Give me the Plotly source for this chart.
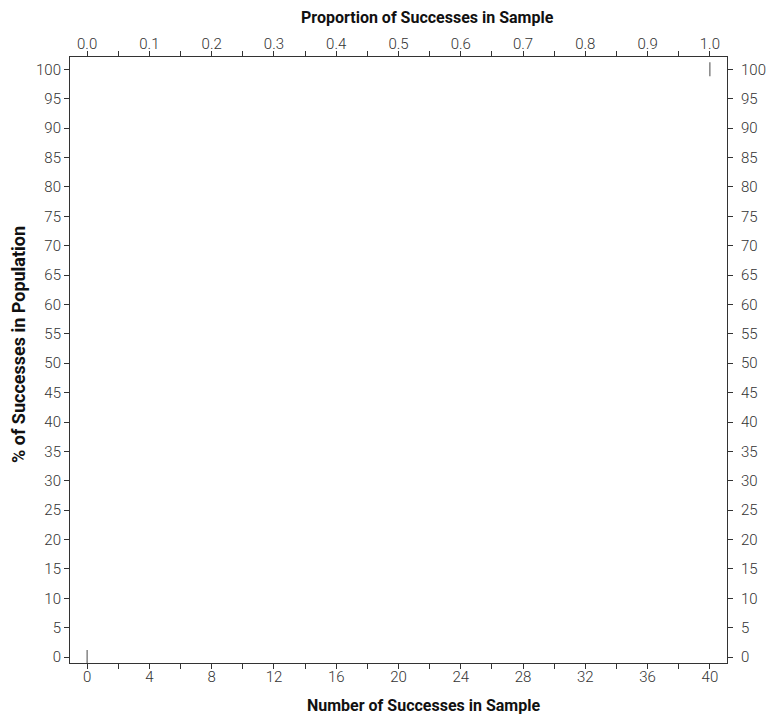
import plotly.graph_objects as go

# Sample size and the two endpoint observations (successes, % of population)
n_sample = 40
successes = [0, 40]
pct_population = [0, 100]

# Axis ticks
count_ticks = list(range(0, 41, 2))
count_labels = [str(v) if v % 4 == 0 else "" for v in count_ticks]
prop_ticks = [v / 20 for v in range(0, 21)]
prop_labels = [f"{v:.1f}" if i % 2 == 0 else "" for i, v in enumerate(prop_ticks)]
pct_ticks = list(range(0, 101, 5))

x_range = [-1.1, 41.1]
y_range = [-1.0, 102.1]

tick_font = dict(family="Roboto", size=15, color="#333333", weight=300)
title_font = dict(family="Roboto", size=16, color="#111111", weight=700)
line_col = "#333333"

fig = go.Figure()
fig.add_trace(go.Scatter(
    x=successes, y=pct_population, mode="markers",
    marker=dict(symbol="line-ns", size=10, line=dict(width=1.2, color="#666666")),
    hoverinfo="skip", showlegend=False,
))
# Proportion scale on the top axis and mirrored % scale on the right
fig.add_trace(go.Scatter(
    x=[s / n_sample for s in successes], y=pct_population, mode="markers",
    marker=dict(opacity=0), xaxis="x2", yaxis="y2",
    hoverinfo="skip", showlegend=False,
))

common = dict(showline=True, linecolor=line_col, linewidth=1, ticks="outside",
              ticklen=5, tickcolor=line_col, tickwidth=1, showgrid=False,
              zeroline=False, tickfont=tick_font, automargin=False)

fig.update_layout(
    width=770, height=719,
    margin=dict(l=70, r=43, t=57, b=56, autoexpand=False),
    plot_bgcolor="white", paper_bgcolor="white",
    xaxis=dict(range=x_range, tickvals=count_ticks, ticktext=count_labels,
               ticklabelstandoff=-5, **common),
    xaxis2=dict(range=[x_range[0] / n_sample, x_range[1] / n_sample], overlaying="x", side="top",
                tickvals=prop_ticks, ticktext=prop_labels, ticklabelstandoff=-4,
                **common),
    yaxis=dict(range=y_range, tickvals=pct_ticks, ticklabelstandoff=0, **common),
    yaxis2=dict(range=y_range, tickvals=pct_ticks, overlaying="y", side="right",
                ticklabelstandoff=5, **common),
    annotations=[
        dict(text="<b>Proportion of Successes in Sample</b>", xref="paper", yref="paper",
             x=(427 - 70) / 657, y=1 + (57 - 17) / 606, xanchor="center", yanchor="middle",
             showarrow=False, font=title_font),
        dict(text="<b>Number of Successes in Sample</b>", xref="paper", yref="paper",
             x=(423 - 70) / 657, y=-(705 - 663) / 606, xanchor="center", yanchor="middle",
             showarrow=False, font=title_font),
        dict(text="<b>% of Successes in Population</b>", xref="paper", yref="paper",
             x=-(70 - 18) / 657, y=(663 - 345) / 606, xanchor="center", yanchor="middle",
             textangle=-90, showarrow=False, font=dict(title_font, size=18)),
    ],
)

fig.write_html("out.html")
